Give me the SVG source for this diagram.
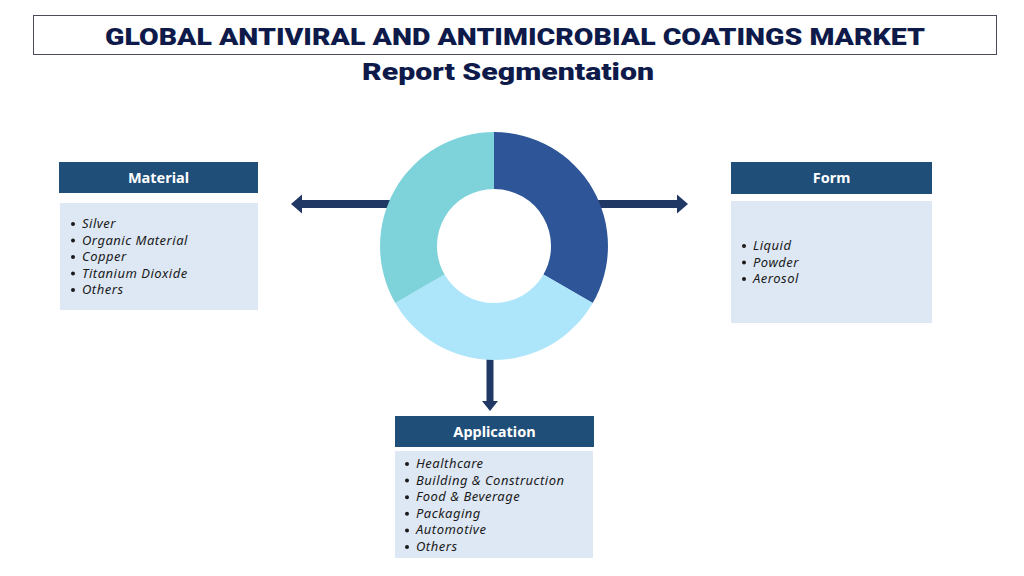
<svg xmlns="http://www.w3.org/2000/svg" width="1024" height="576" viewBox="0 0 1024 576">
<defs>
<style>
.title{font-family:Roboto,"Liberation Sans",sans-serif;font-weight:900;fill:#0E1A4A;text-anchor:middle}
.hdr{fill:#1F4E79}
.hdrt{font-family:"Noto Sans","Open Sans",sans-serif;font-weight:700;font-size:14.5px;fill:#ffffff;text-anchor:middle}
.body{fill:#DEE8F4}
.item{font-family:"Noto Sans","Open Sans",sans-serif;font-style:italic;font-size:13px;letter-spacing:0.5px;fill:#1a1a1a}
.bul{fill:#1a1a1a}
.arr{fill:#1F3864}
</style>
</defs>
<rect width="1024" height="576" fill="#ffffff"/>
<g id="title">
<rect x="33.5" y="15.5" width="963" height="39" fill="#ffffff" stroke="#4a4a5a" stroke-width="1"/>
<text class="title" x="515" y="45" font-size="24" textLength="820" lengthAdjust="spacingAndGlyphs">GLOBAL ANTIVIRAL AND ANTIMICROBIAL COATINGS MARKET</text>
<text class="title" x="508" y="80" font-size="24" textLength="292" lengthAdjust="spacingAndGlyphs">Report Segmentation</text>
</g>
<g id="connectors">
<rect class="arr" x="300" y="200" width="90" height="8"/>
<polygon class="arr" points="291,204 302,194.5 302,213.5"/>
<rect class="arr" x="598" y="200" width="80" height="8"/>
<polygon class="arr" points="688,204 677,194.5 677,213.5"/>
<rect class="arr" x="486.5" y="355" width="7" height="47"/>
<polygon class="arr" points="490,411 482,401 498,401"/>
</g>
<g id="donut">
<path d="M494,132 A114,114 0 0 1 592.7,303 L543.4,274.5 A57,57 0 0 0 494,189 Z" fill="#2E5597"/>
<path d="M592.7,303 A114,114 0 0 1 395.3,303 L444.6,274.5 A57,57 0 0 0 543.4,274.5 Z" fill="#ADE6FB"/>
<path d="M395.3,303 A114,114 0 0 1 494,132 L494,189 A57,57 0 0 0 444.6,274.5 Z" fill="#7ED3DB"/>
</g>
<g id="material">
<rect class="hdr" x="59" y="162" width="199" height="31"/>
<text class="hdrt" x="158.5" y="183">Material</text>
<rect class="body" x="60" y="203" width="198" height="107"/>
<circle class="bul" cx="73" cy="224" r="2"/><text class="item" x="82" y="228">Silver</text>
<circle class="bul" cx="73" cy="240.5" r="2"/><text class="item" x="82" y="244.5">Organic Material</text>
<circle class="bul" cx="73" cy="257" r="2"/><text class="item" x="82" y="261">Copper</text>
<circle class="bul" cx="73" cy="273.5" r="2"/><text class="item" x="82" y="277.5">Titanium Dioxide</text>
<circle class="bul" cx="73" cy="290" r="2"/><text class="item" x="82" y="294">Others</text>
</g>
<g id="form">
<rect class="hdr" x="731" y="162" width="201" height="32"/>
<text class="hdrt" x="831.5" y="183">Form</text>
<rect class="body" x="731" y="201" width="201" height="122"/>
<circle class="bul" cx="744" cy="246" r="2"/><text class="item" x="753" y="250">Liquid</text>
<circle class="bul" cx="744" cy="262.5" r="2"/><text class="item" x="753" y="266.5">Powder</text>
<circle class="bul" cx="744" cy="279" r="2"/><text class="item" x="753" y="283">Aerosol</text>
</g>
<g id="application">
<rect class="hdr" x="395" y="416" width="199" height="31"/>
<text class="hdrt" x="494.5" y="437">Application</text>
<rect class="body" x="395" y="451" width="198" height="107"/>
<circle class="bul" cx="407" cy="464" r="2"/><text class="item" x="416" y="468">Healthcare</text>
<circle class="bul" cx="407" cy="480.6" r="2"/><text class="item" x="416" y="484.6">Building &amp; Construction</text>
<circle class="bul" cx="407" cy="497.2" r="2"/><text class="item" x="416" y="501.2">Food &amp; Beverage</text>
<circle class="bul" cx="407" cy="513.8" r="2"/><text class="item" x="416" y="517.8">Packaging</text>
<circle class="bul" cx="407" cy="530.4" r="2"/><text class="item" x="416" y="534.4">Automotive</text>
<circle class="bul" cx="407" cy="547" r="2"/><text class="item" x="416" y="551">Others</text>
</g>
</svg>
